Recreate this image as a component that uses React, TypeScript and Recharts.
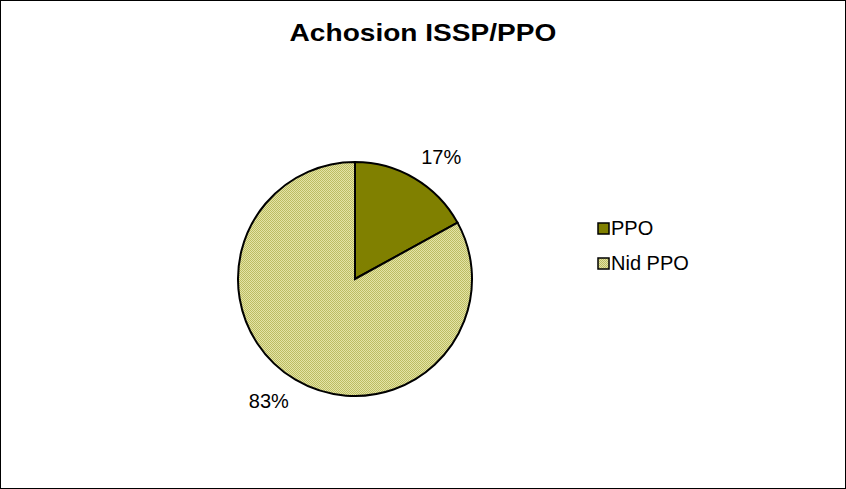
import React from "react";
import { PieChart, Pie, Cell, Legend } from "recharts";

const labels = ["PPO", "Nid PPO"];
const values = [17, 83];
const fills = ["#808000", "url(#nidDots)"];

const data = labels.map((name, i) => ({ name, value: values[i] }));

const RAD = Math.PI / 180;
const FONT = "Liberation Sans, Arial, sans-serif";

// place the label box so its nearest corner sits just outside the slice edge
function renderLabel(props: any) {
  const { cx, cy, midAngle, outerRadius, percent } = props;
  const r = outerRadius + 13;
  const cos = Math.cos(-midAngle * RAD);
  const sin = Math.sin(-midAngle * RAD);
  const w = 40;
  const h = 20;
  const x = cx + r * cos + (cos >= 0 ? w / 2 : -w / 2);
  const y = cy + r * sin + (sin >= 0 ? h / 2 : -h / 2);
  return (
    <text
      x={x}
      y={y}
      textAnchor="middle"
      dominantBaseline="central"
      fontSize={20}
      fontFamily={FONT}
      fill="#000"
    >
      {`${Math.round(percent * 100)}%`}
    </text>
  );
}

function LegendBox() {
  return (
    <div style={{ fontFamily: FONT, fontSize: 20 }}>
      {data.map((d, i) => (
        <div key={d.name} style={{ display: "flex", alignItems: "center", height: 35 }}>
          <svg width={13} height={13} style={{ marginRight: 1 }}>
            <rect x={1} y={1} width={11} height={11} fill={fills[i]} stroke="#000" strokeWidth={1.5} />
          </svg>
          <span>{d.name}</span>
        </div>
      ))}
    </div>
  );
}

export default function App() {
  return (
    <div style={{ position: "absolute", left: 0, top: 0, width: 846, height: 489, background: "#fff" }}>
      <svg width={0} height={0} style={{ position: "absolute" }}>
        <defs>
          <pattern id="nidDots" width={2} height={2} patternUnits="userSpaceOnUse">
            <rect width={2} height={2} fill="#e4e4a6" />
            <rect width={1} height={1} fill="#bcbc62" />
            <rect x={1} y={1} width={1} height={1} fill="#bcbc62" />
          </pattern>
        </defs>
      </svg>
      <div
        style={{
          position: "absolute",
          left: 0,
          top: 0,
          width: 844,
          height: 487,
          border: "1px solid #000",
        }}
      />
      <div
        style={{
          position: "absolute",
          left: 0,
          top: 19,
          width: 846,
          textAlign: "center",
          fontFamily: FONT,
          fontWeight: "bold",
          fontSize: 24,
          transform: "scaleX(1.17)",
          transformOrigin: "423px 0",
        }}
      >
        Achosion ISSP/PPO
      </div>
      <PieChart width={846} height={489} style={{ position: "absolute", left: 0, top: 0 }}>
        <Pie
          data={data}
          dataKey="value"
          nameKey="name"
          cx={350}
          cy={274}
          outerRadius={117}
          startAngle={90}
          endAngle={-270}
          stroke="#000"
          strokeWidth={2}
          label={renderLabel}
          labelLine={false}
          isAnimationActive={false}
        >
          {data.map((d, i) => (
            <Cell key={d.name} fill={fills[i]} />
          ))}
        </Pie>
        <Legend
          content={<LegendBox />}
          wrapperStyle={{ position: "absolute", left: 597, top: 211, width: 150 }}
        />
      </PieChart>
    </div>
  );
}
